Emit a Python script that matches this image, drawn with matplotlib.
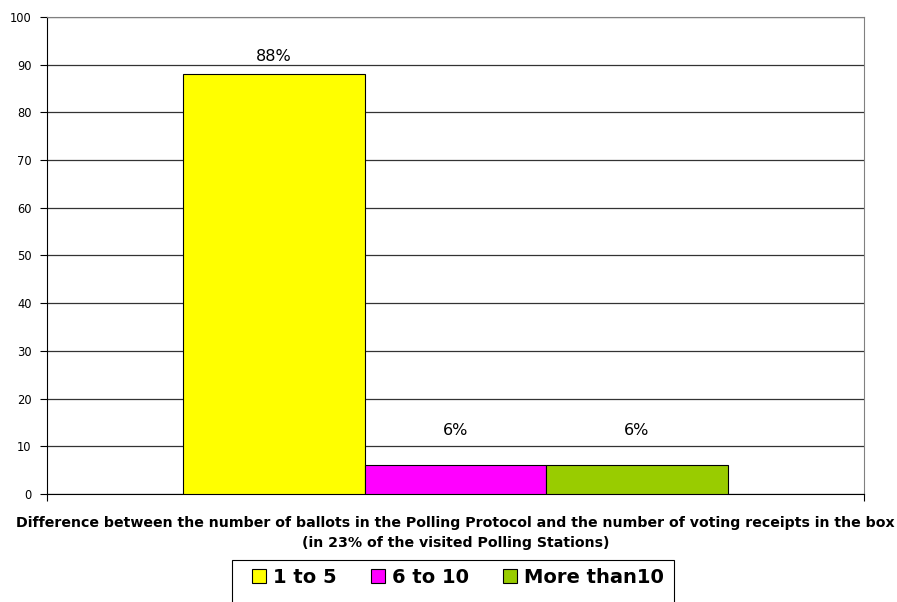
import matplotlib.pyplot as plt
from matplotlib.patches import Rectangle

plt.rcParams['font.family'] = ['DejaVu Sans']

categories = ['1 to 5', '6 to 10', 'More than10']
values = [88, 6, 6]
labels = ['88%', '6%', '6%']
colors = ['#ffff00', '#ff00ff', '#99cc00']

fig = plt.figure(figsize=(8.97, 6.02), dpi=100)
ax = fig.add_axes([0.0524, 0.1794, 0.9108, 0.7924])

bars = ax.bar(range(len(values)), values, width=1.0, color=colors,
              edgecolor='black', linewidth=0.8, label=categories, zorder=3)
# value labels above bars (Excel keeps small ones a bit higher)
for b, lab in zip(bars, labels):
    ax.text(b.get_x() + b.get_width() / 2, max(b.get_height() + 2.7, 12.4),
            lab, ha='center', va='baseline', fontsize=11.5)

ax.set_xlim(-1.25, 3.25)
ax.set_ylim(0, 100)
ax.set_yticks(range(0, 101, 10))
ax.tick_params(axis='y', labelsize=8.3, length=5, width=0.8, pad=6)
ax.set_xticks([-1.25, 3.25])
ax.set_xticklabels([])
ax.tick_params(axis='x', length=5, width=0.8)
ax.yaxis.grid(True, color='#333333', linewidth=0.9, zorder=0)
ax.set_axisbelow(True)

ax.spines['left'].set_color('black')
ax.spines['bottom'].set_color('black')
ax.spines['top'].set_color('#808080')
ax.spines['right'].set_color('#808080')

ax.set_xlabel('Difference between the number of ballots in the Polling Protocol and the number of voting receipts in the box\n'
              '(in 23% of the visited Polling Stations)',
              fontsize=10.2, fontweight='bold', labelpad=7, linespacing=1.55)

# legend box (runs off the bottom edge like the original)
fig.patches.append(Rectangle((232 / 897, -0.05), (674 - 232) / 897, 1 - 560 / 602 + 0.05,
                             transform=fig.transFigure, facecolor='white',
                             edgecolor='black', linewidth=0.8))
leg = fig.legend(handles=list(bars), labels=categories, loc='upper left',
                 bbox_to_anchor=(252 / 897, 1 - 568 / 602), ncol=3, frameon=False,
                 prop={'size': 14, 'weight': 'bold'}, handlelength=0.72,
                 handleheight=0.72, handletextpad=0.36, columnspacing=1.75,
                 borderpad=0, borderaxespad=0)

fig.savefig('out.png', dpi=100)
